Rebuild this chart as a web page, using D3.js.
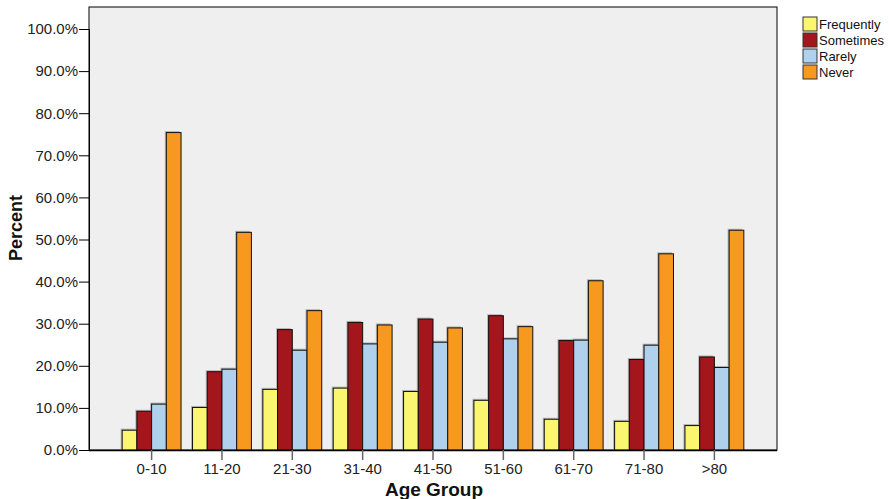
<!DOCTYPE html>
<html><head><meta charset="utf-8">
<script src="https://cdn.jsdelivr.net/npm/d3@7"></script>
<style>body{margin:0;background:#fff;}svg{display:block;font-family:"Liberation Sans",Arial,sans-serif;}</style>
</head><body>
<svg id="c" width="889" height="499"></svg>
<script>
const categories = ["0-10","11-20","21-30","31-40","41-50","51-60","61-70","71-80",">80"];
const seriesNames = ["Frequently","Sometimes","Rarely","Never"];
const frequently = [4.7,10.1,14.4,14.7,13.9,11.8,7.3,6.8,5.8];
const sometimes  = [9.2,18.6,28.6,30.3,31.1,31.9,26.0,21.5,22.1];
const rarely     = [10.9,19.2,23.7,25.2,25.6,26.4,26.1,24.9,19.6];
const never      = [75.4,51.7,33.1,29.7,29.0,29.3,40.2,46.6,52.2];
const yTicks = [0,10,20,30,40,50,60,70,80,90,100];
const colors = ["#fbf66f","#a3161b","#afd1ed","#f8991f"];

const seriesValues = [frequently, sometimes, rarely, never];
const svg = d3.select("#c");
const L = 89, R = 777, T = 7, B = 450;

const x = d3.scaleBand().domain(categories).range([L, R]).paddingInner(0).paddingOuter(0.39);
const xs = d3.scaleBand().domain(seriesNames).range([0, x.bandwidth()]).paddingOuter(0.39).paddingInner(0);
const y = d3.scaleLinear().domain([0, 100]).range([B, B - 421]);

svg.append("rect").attr("x", L).attr("y", T).attr("width", R - L).attr("height", B - T)
  .attr("fill", "#efefef").attr("stroke", "#000").attr("stroke-width", 1);

const data = [];
categories.forEach((c, i) => seriesNames.forEach((s, j) => data.push({c, s, j, v: seriesValues[j][i]})));

// shadows
svg.append("g").selectAll("rect").data(data).join("rect")
  .attr("x", d => x(d.c) + xs(d.s) - 1.5).attr("y", d => y(d.v) - 1.5)
  .attr("width", xs.bandwidth()).attr("height", d => B - y(d.v) + 1.5)
  .attr("fill", "#8a8a8a").attr("opacity", 0.6);

svg.append("g").selectAll("rect").data(data).join("rect")
  .attr("x", d => x(d.c) + xs(d.s)).attr("y", d => y(d.v))
  .attr("width", xs.bandwidth()).attr("height", d => B - y(d.v))
  .attr("fill", d => colors[d.j]).attr("stroke", "#111").attr("stroke-width", 1);

// y axis
const ya = svg.append("g").attr("transform", `translate(${L},0)`)
  .call(d3.axisLeft(y).tickValues(yTicks).tickSize(10).tickPadding(1).tickFormat(d => d.toFixed(1) + "%"));
ya.select(".domain").attr("stroke", "#000");
ya.selectAll(".tick line").attr("stroke", "#000");
ya.selectAll("text").attr("font-size", 15).attr("fill", "#222").attr("font-family", "Liberation Sans, Arial, sans-serif");

// x axis
const xa = svg.append("g").attr("transform", `translate(0,${B})`)
  .call(d3.axisBottom(x).tickSize(10).tickPadding(3));
xa.select(".domain").attr("stroke", "#000").attr("stroke-width", 1.5).attr("d", `M${L},0.5H${R}`);
xa.selectAll(".tick line").attr("stroke", "#666").attr("stroke-width", 1.5);
xa.selectAll("text").attr("font-size", 15).attr("fill", "#222").attr("font-family", "Liberation Sans, Arial, sans-serif");

// axis titles
svg.append("text").attr("x", 434).attr("y", 496).attr("text-anchor", "middle")
  .attr("font-size", 19).attr("font-weight", "bold").attr("fill", "#111").text("Age Group");
svg.append("text").attr("transform", "translate(22,228) rotate(-90)").attr("text-anchor", "middle")
  .attr("font-size", 18).attr("font-weight", "bold").attr("fill", "#111").text("Percent");

// legend
const lg = svg.append("g").attr("transform", "translate(803,17)");
seriesNames.forEach((s, j) => {
  const g = lg.append("g").attr("transform", `translate(0,${j * 16})`);
  g.append("rect").attr("x", 0).attr("y", 0).attr("width", 14).attr("height", 14)
    .attr("fill", colors[j]).attr("stroke", "#333").attr("stroke-width", 1);
  g.append("text").attr("x", 16).attr("y", 11.5).attr("font-size", 13).attr("fill", "#111").text(s);
});
</script>
</body></html>
